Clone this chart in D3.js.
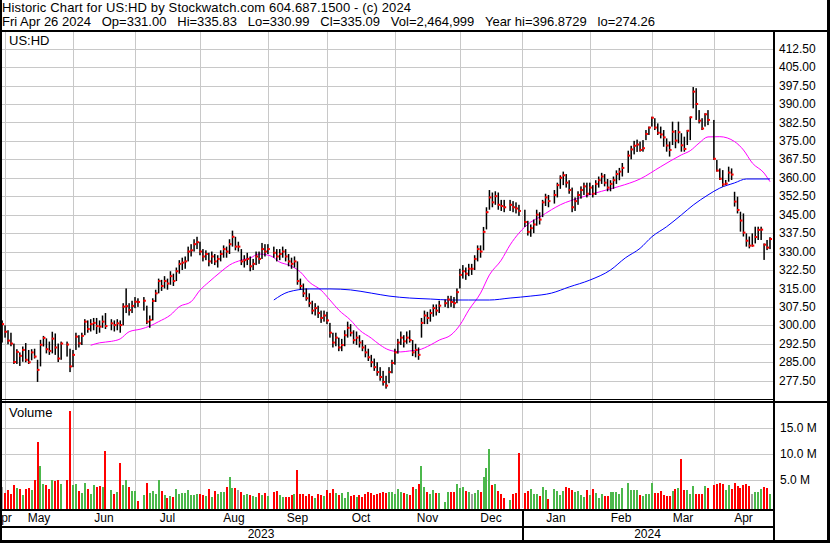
<!DOCTYPE html>
<html>
<head>
<meta charset="utf-8">
<script src="https://d3js.org/d3.v7.min.js"></script>
<style>
	body { margin: 0; background: #fff; }
	svg { display: block; }
	text { font-family: "Liberation Sans", Arial, sans-serif; fill: #000; }
</style>
</head>
<body>
<div id="chart"></div>
<script>
const titleLine = "Historic Chart for US:HD by Stockwatch.com 604.687.1500 - (c) 2024";
const quoteLine = "Fri Apr 26 2024   Op=331.00   Hi=335.83   Lo=330.99   Cl=335.09   Vol=2,464,999   Year hi=396.8729   lo=274.26";
const symbol = "US:HD";
const firstDay = "2023-04-28", lastDay = "2024-04-26";

// one entry per weekday, null = market holiday
const closes = [
	300.5, 297.4, 293.8, 292.6, 285.1, 289.2, 287.6, 290, 286, 285,
	289, 287.3, 281.9, 292.1, 294.9, 290.3, 289.6, 294.6, 291, 286.5,
	292.6, null, 292.2, 283.3, 288, 295.4, 292.7, 295.7, 301.5, 298.5,
	300.5, 301, 299.7, 299.5, 301.5, 299.7, null, 300.8, 300.1, 300.8,
	300.1, 307.6, 307.8, 306.2, 307.9, 309.6, 309.5, null, 310, 301.5,
	302.2, 309.9, 313, 318, 316, 318, 317, 320, 318, 322,
	325, 325.5, 326, 330, 330.5, 333, 333.8, 330, 328, 329,
	326, 328, 326, 327, 329, 331, 330, 333, 336, 332,
	332, 326, 326.5, 327, 324, 325, 328, 327, 331, 330,
	331, null, 329.5, 328, 329, 330, 328, 326, 325, 326,
	318, 316, 313, 311, 309, 306, 307, 305, 303, 304,
	302, 297, 293, 295, 291, 292, 296, 299, 297, 294,
	295, 293, 291, 289, 287, 285, 283, 281, 279, 277,
	275.5, 281, 284.7, 289, 293, 295, 293.5, 295, 294, 289,
	290, 288, 301, 304, 303, 305, 307, 306, 308, null,
	309, 310.5, 309.5, 309, 313.5, 320.5, 322, 321, 323, 323,
	327, 331, 330, 338, 346, 352, 350, 352.5, 349, 348.5,
	348, null, 349, 348, 347.5, 346.5, null, 342, 338, 339.5,
	341, 345, 343, 350, 352, 350.5, null, 353, 357, 360,
	361, 358, 355, 348, 350.5, 353, 355, 356.5, 353.5, 356,
	353.5, 357.5, 359, 360.5, 358, 356, 357.5, 359, 361.5, 362.5,
	364, null, 369, 371.5, 373, 373.5, 371.3, 372, 377.8, 380.4,
	384.4, 380.4, 378.3, 377.6, 376.4, 373.1, 371.3, 378.7, 375.1, 378.5,
	373.2, 371.7, 379.1, 384.6, 395, 390, 383.2, 380, 385.8, 383.5,
	null, 367.7, 362.9, 359.6, 357.3, 357.6, 362.1, 361.3, 350.3, 346.9,
	342.6, 337.7, 334.4, 332.4, 332.4, 335.9, 338.8, 338.9, 332.8, 331.6, 335.09
];
const highs = [
	302, 300, 298, 297, 292.6, 290.3, 289, 291.4, 292.8, 290,
	290.3, 290.5, 286, 294.1, 295.7, 294.7, 293.4, 297.4, 296.7, 292.6,
	293.4, null, 293.4, 290.5, 290, 297, 296, 297, 302.5, 302,
	302.5, 303, 303, 302, 304, 305, null, 302.5, 302, 302.5,
	302, 309, 315, 309, 310, 311.5, 311, null, 311.5, 308,
	304, 311, 314.5, 319, 318.5, 320, 319, 322, 321, 323.5,
	326.5, 327.5, 328, 332, 333, 335, 336, 334, 331, 330.5,
	329.5, 330, 329, 328.5, 330.5, 332.5, 332, 335, 338.5, 336,
	334, 331, 328.5, 329.5, 328, 327, 330, 330, 333.5, 333,
	333, null, 332, 331, 331, 332, 331, 329, 327.5, 328,
	326, 319, 317, 315, 313, 310, 309, 308, 306, 306,
	305.5, 301, 297, 297, 295, 294.5, 298, 301.5, 300.5, 298,
	297.5, 296, 294, 292, 290.5, 288, 286.5, 285, 283, 281.5,
	279.5, 283, 286, 290.5, 294.5, 297.5, 296, 297.5, 298, 294,
	292.5, 291, 303, 306, 305.5, 306.5, 308.5, 308.5, 310, null,
	310.5, 312, 312, 311.5, 315, 323, 324.5, 323.5, 325, 325,
	328.5, 332.5, 332.5, 340, 348, 355, 354, 354.5, 354, 351,
	351, null, 351, 350.5, 350, 349, null, 347, 342.5, 341,
	343, 347, 346, 351, 353.5, 353, null, 355, 358, 361,
	362.5, 361.5, 359, 356, 352, 354.5, 356.5, 358, 358, 358,
	357, 359, 360.5, 362, 361.5, 359.5, 359, 360.5, 363, 364,
	366, null, 371, 373, 375, 375.5, 374.7, 375.3, 379.4, 380.8,
	384.8, 384.2, 382.1, 380.8, 379.4, 376, 374.7, 382.8, 379.4, 382.8,
	378.1, 376.7, 379.4, 384.8, 396.87, 396.4, 387.5, 384.2, 386.2, 387.5,
	null, 383.5, 367.2, 363.8, 363.1, 359.1, 364.5, 363.8, 354.3, 352.3,
	346.2, 345.5, 337.4, 336.1, 337.4, 340.1, 340.1, 340.1, 333.3, 334.7, 335.83
];
const lows = [
	293, 295, 292.3, 291.5, 284.3, 284.3, 283.5, 285.2, 285, 284.3,
	285.8, 286.5, 277, 283.3, 291.4, 288.6, 288, 288.6, 288, 285.1,
	286, null, 287.3, 281, 283, 290, 291, 292, 296, 297,
	297.5, 298, 296.5, 297, 299, 298.5, null, 298, 297.5, 298,
	297, 300, 305, 304, 305, 307, 307.5, null, 306, 300.5,
	299, 302, 309.5, 313, 314, 315, 314.5, 316.5, 316, 318,
	321, 322.5, 323, 326, 328, 330, 331, 328.5, 326, 326.5,
	324, 325, 324.5, 323.5, 326, 327.5, 327.5, 329, 332, 330.5,
	330, 324.5, 323.5, 324.5, 322, 322.5, 324.5, 325, 327, 328,
	329, null, 327.5, 326, 326.5, 327.5, 326, 324, 323, 323.5,
	316.5, 314.5, 311.5, 310, 307.5, 304.5, 304, 303, 301, 301.5,
	300.5, 295, 291, 291.5, 289.5, 289.5, 291.5, 295, 295.5, 292.5,
	292, 291, 289.5, 287, 285.5, 283, 281.5, 279.5, 277.5, 275.5,
	274.26, 276.5, 280.5, 284, 288.5, 292, 291, 292.5, 293, 287.5,
	287, 286, 295, 300.5, 300.5, 301.5, 303.5, 304, 305, null,
	307.5, 307, 307.5, 307, 309, 315, 319, 318.5, 320, 320.5,
	322.5, 326, 327.5, 330.5, 339, 347, 348, 349, 347, 346.5,
	346, null, 346.5, 346, 345.5, 344.5, null, 340, 336.5, 336,
	337.5, 340.5, 341, 344, 348.5, 348, null, 349.5, 352, 355.5,
	357, 356, 353.5, 346, 346.5, 349, 351.5, 353, 352, 353,
	352, 353, 356, 357.5, 356.5, 354.5, 354.5, 355.5, 357.5, 359,
	360.5, null, 362, 367.5, 369.5, 370.5, 370.6, 370.6, 375.3, 377.4,
	380.8, 379.4, 377.4, 376, 372.6, 370.6, 368.6, 373.3, 372, 374,
	370.6, 370.6, 373.3, 375.3, 388.2, 383.5, 382.1, 379.4, 380.8, 381.4,
	null, 367.2, 362.5, 359.1, 356.4, 357.1, 358.4, 359.1, 348.3, 345.5,
	338.1, 336.1, 332, 331.3, 332, 333.3, 334.7, 334.7, 326.6, 330.6, 330.99
];
// millions of shares
const volumes = [
	3.8, 2.6, 3.1, 2.4, 4.1, 3.6, 3.3, 2.2, 3.3, 3.5,
	3.2, 5.1, 12.4, 7.75, 4.35, 4.1, 3.3, 5.1, 4.8, 5.1,
	4.3, null, 5.0, 18.3, 4.1, 4.3, 2.85, 2.5, 4.4, 3.4,
	2.4, 4.1, 3.8, 4.0, 3.7, 10.6, null, 3.1, 2.4, 2.8,
	8.4, 4.1, 5.1, 3.8, 2.85, 2.85, 1.0, null, 2.2, 4.4,
	2.6, 2.85, 2.4, 5.1, 2.85, 2.2, 1.65, 2.0, 1.8, 3.3,
	2.4, 2.5, 2.6, 3.1, 2.2, 2.1, 2.4, 2.4, 2.2, 2.0,
	3.3, 1.7, 2.85, 2.4, 2.7, 2.7, 3.7, 5.7, 3.5, 3.5,
	3.1, 2.8, 2.2, 2.4, 2.15, 2.0, 1.8, 2.5, 2.1, 2.5,
	2.0, null, 2.8, 2.85, 2.2, 1.8, 1.8, 1.8, 2.2, 2.4,
	7.0, 2.4, 2.4, 2.0, 2.4, 2.0, 1.65, 2.4, 2.2, 2.0,
	3.1, 2.6, 3.3, 2.5, 2.2, 2.5, 1.65, 2.7, 2.0, 2.2,
	1.8, 2.2, 1.8, 2.4, 2.7, 2.5, 2.2, 2.4, 2.5, 2.7,
	2.5, 2.7, 2.7, 2.4, 3.3, 2.8, 2.6, 2.3, 2.2, 3.8,
	3.3, 4.3, 7.75, 3.8, 2.8, 2.4, 3.2, 2.6, 2.6, null,
	0.8, 2.8, 2.8, 2.8, 4.3, 3.5, 3.7, 2.9, 2.7, 2.4,
	2.6, 3.1, 2.7, 5.6, 7.4, 11.0, 4.1, 4.3, 2.9, 2.4,
	1.6, null, 1.2, 2.4, 2.6, 10.25, null, 2.6, 2.9, 3.3,
	2.4, 2.4, 2.0, 3.7, 3.1, 1.5, null, 3.3, 2.9, 2.2,
	2.9, 3.7, 3.5, 3.1, 2.7, 2.9, 2.2, 1.8, 3.1, 2.2,
	3.3, 2.6, 1.6, 2.4, 2.0, 2.0, 2.7, 2.7, 2.7, 2.4,
	3.5, null, 4.45, 3.1, 3.1, 3.1, 2.2, 2.0, 2.4, 2.4,
	4.4, 2.6, 2.6, 2.9, 2.2, 2.0, 2.0, 2.9, 3.3, 3.5,
	9.1, 3.1, 3.1, 2.4, 3.9, 2.4, 2.4, 2.4, 3.9, 3.6,
	null, 4.1, 4.3, 4.5, 4.3, 3.1, 4.1, 3.3, 4.5, 3.9,
	3.5, 4.1, 4.3, 3.9, 2.4, 2.8, 2.8, 3.3, 3.7, 3.5, 2.46
];
// moving averages: [weekday index, price]
const maShort = [
	[30, 291.9], [33, 292.9], [37, 293.5], [40, 294.5], [43, 297.4], [47, 298.5],
	[50, 299.7], [53, 301.5], [57, 304.2], [60, 307.6], [64, 309.6], [67, 314.3],
	[70, 317.6], [74, 321.7], [77, 324.5], [81, 326.5], [84, 327.4], [87, 329],
	[91, 328.2], [94, 325.7], [97, 324.5], [101, 321.7], [104, 317.6], [108, 314.3],
	[111, 310.3], [114, 306.2], [118, 302.1], [121, 298.1], [125, 294.8], [128, 292],
	[131, 290], [135, 289.2], [138, 289.6], [141, 290], [145, 292], [148, 294],
	[152, 296.1], [155, 300.1], [158, 306.2], [162, 313.1], [165, 320.5], [169, 326.5],
	[172, 332.7], [175, 337.5], [179, 342], [182, 344], [186, 347], [189, 349],
	[196, 352], [203, 354.5], [209, 356.5], [216, 359.5], [223, 364.5], [230, 369.3],
	[233, 371], [236, 374.1], [239, 376.6], [243, 376.7], [248, 374.7], [251, 371.3],
	[254, 366], [258, 361.9], [260, 358.4]
];
const maLong = [
	[92, 310.3], [97, 313.6], [104, 314.8], [111, 314.8], [118, 314.4], [125, 313.1],
	[131, 311.9], [138, 311.1], [145, 310.7], [152, 310.3], [158, 310.3], [165, 310.3],
	[172, 311.1], [179, 311.9], [186, 313.1], [192, 315.6], [199, 318.4], [206, 322.5],
	[211, 327.4], [216, 331.3], [220, 336], [225, 340.1], [230, 344.9], [234, 348.9],
	[239, 353], [243, 355.8], [248, 357.9], [252, 359.5], [260, 359.5]
];
const priceTicks = [277.5, 285, 292.5, 300, 307.5, 315, 322.5, 330, 337.5, 345, 352.5, 360,
	367.5, 375, 382.5, 390, 397.5, 405, 412.5];
const volumeTicks = [5, 10, 15];
const monthNames = ["Jan", "Feb", "Mar", "Apr", "May", "Jun", "Jul", "Aug", "Sep", "Oct", "Nov", "Dec"];

function drawChart() {
	let W = 830, H = 543;
	let plotL = 2, plotR = 773;
	let priceTop = 32, priceBot = 400;
	let volBot = 508;
	let monthTop = 510;
	let gridColor = "#c8c8c8";

	let parse = d3.timeParse("%Y-%m-%d");
	let days = d3.timeDays(parse(firstDay), d3.timeDay.offset(parse(lastDay), 1))
		.filter(function (d) { return d.getDay() != 0 && d.getDay() != 6; });

	let bars = [];
	let prev = null;
	days.forEach(function (d, i) {
		if (closes[i] == null) return;
		let dir = prev == null ? 0 : Math.sign(closes[i] - prev);
		bars.push({i: i, date: d, hi: highs[i], lo: lows[i], cl: closes[i], vol: volumes[i], dir: dir});
		prev = closes[i];
	});

	let x = d3.scaleLinear()
		.domain([0, days.length - 1])
		.range([2.1, 770]);
	let step = x(1) - x(0);

	let y = d3.scaleLinear()
		.domain([269.65, 419.25])
		.range([priceBot, priceTop]);

	let yv = d3.scaleLinear()
		.domain([0, 20])
		.range([506.3, 402.3]);

	// month boundaries
	let months = [];
	days.forEach(function (d, i) {
		if (i > 0 && d.getMonth() == days[i - 1].getMonth()) return;
		let first = new Date(d.getFullYear(), d.getMonth(), 1);
		let pos = (first.getDay() == 0 || first.getDay() == 6) ? x(i) - step : x(i);
		months.push({date: d, x: Math.round(pos), first: i > 0});
	});
	let bounds = months.filter(function (m) { return m.first; });

	let svg = d3.select("#chart")
		.append("svg")
		.attr("width", W)
		.attr("height", H);

	svg.append("rect")
		.attr("width", W).attr("height", H)
		.attr("fill", "#fff");

	// header
	let header = svg.append("g").attr("class", "header");
	header.append("text")
		.attr("x", 2).attr("y", 12)
		.attr("textLength", 409)
		.attr("lengthAdjust", "spacing")
		.style("font-size", "13px")
		.text(titleLine);
	header.append("text")
		.attr("x", 2).attr("y", 26)
		.style("font-size", "13px")
		.style("white-space", "pre")
		.text(quoteLine);

	let grid = svg.append("g").attr("class", "grid")
		.attr("stroke", gridColor)
		.attr("shape-rendering", "crispEdges");

	// vertical month gridlines in both panels
	grid.selectAll("line.v")
		.data(bounds)
		.enter()
		.append("line")
		.attr("x1", function (d) { return d.x + 0.5; })
		.attr("x2", function (d) { return d.x + 0.5; })
		.attr("y1", priceTop)
		.attr("y2", volBot);

	// price gridlines + labels
	let yAxis = d3.axisRight(y)
		.tickValues(priceTicks)
		.tickSize(0)
		.tickPadding(6)
		.tickFormat(d3.format(".2f"));
	let yAxisG = svg.append("g")
		.attr("transform", "translate(" + plotR + ",0)")
		.call(yAxis);
	yAxisG.select(".domain").remove();
	yAxisG.selectAll("text")
		.style("font-size", "12px")
		.attr("dy", "0.3em")
		.attr("fill", "#000");

	grid.selectAll("line.h")
		.data(priceTicks)
		.enter()
		.append("line")
		.attr("x1", plotL)
		.attr("x2", plotR)
		.attr("y1", function (d) { return Math.round(y(d)) + 0.5; })
		.attr("y2", function (d) { return Math.round(y(d)) + 0.5; });

	// volume gridlines + labels
	let vAxis = d3.axisRight(yv)
		.tickValues(volumeTicks)
		.tickSize(0)
		.tickPadding(7)
		.tickFormat(function (d) { return d.toFixed(1) + " M"; });
	let vAxisG = svg.append("g")
		.attr("transform", "translate(" + plotR + ",0)")
		.call(vAxis);
	vAxisG.select(".domain").remove();
	vAxisG.selectAll("text")
		.style("font-size", "12px")
		.attr("dy", "0.3em")
		.attr("fill", "#000");

	grid.selectAll("line.vh")
		.data(volumeTicks)
		.enter()
		.append("line")
		.attr("x1", plotL)
		.attr("x2", plotR)
		.attr("y1", function (d) { return Math.round(yv(d)) + 0.5; })
		.attr("y2", function (d) { return Math.round(yv(d)) + 0.5; });

	// moving averages
	let line = d3.line()
		.x(function (d) { return x(d[0]); })
		.y(function (d) { return y(d[1]); })
		.curve(d3.curveMonotoneX);
	svg.append("path")
		.datum(maShort)
		.attr("d", line)
		.attr("fill", "none")
		.attr("stroke", "#ff00ff")
		.attr("stroke-width", 1);
	svg.append("path")
		.datum(maLong)
		.attr("d", line)
		.attr("fill", "none")
		.attr("stroke", "#0000ff")
		.attr("stroke-width", 1);

	// price bars
	let price = svg.append("g").attr("class", "bars");
	price.selectAll("rect.hl")
		.data(bars)
		.enter()
		.append("rect")
		.attr("x", function (d) { return x(d.i) - 0.75; })
		.attr("width", 1.5)
		.attr("y", function (d) { return y(d.hi); })
		.attr("height", function (d) { return Math.max(1, y(d.lo) - y(d.hi)); })
		.attr("fill", "#000");
	price.selectAll("rect.cl")
		.data(bars)
		.enter()
		.append("rect")
		.attr("x", function (d) { return x(d.i) - 0.5; })
		.attr("width", 2.5)
		.attr("y", function (d) { return y(d.cl) - 1; })
		.attr("height", 2)
		.attr("fill", "#ff0000");

	svg.append("text")
		.attr("x", 9).attr("y", 45)
		.style("font-size", "13px")
		.text(symbol);

	// volume bars
	let vol = svg.append("g").attr("class", "volume")
		.attr("shape-rendering", "crispEdges");
	vol.selectAll("rect")
		.data(bars)
		.enter()
		.append("rect")
		.attr("x", function (d) { return Math.round(x(d.i)) - 1; })
		.attr("width", 2)
		.attr("y", function (d) { return yv(d.vol); })
		.attr("height", function (d) { return volBot + 0.5 - yv(d.vol); })
		.attr("fill", function (d) {
			return d.dir > 0 ? "#4cb84c" : (d.dir < 0 ? "#ff0000" : "#a0a0a0");
		});

	svg.append("text")
		.attr("x", 9).attr("y", 417)
		.style("font-size", "13px")
		.text("Volume");

	// month + year labels
	let labels = svg.append("g")
		.attr("clip-path", "url(#clipDates)");
	svg.append("clipPath").attr("id", "clipDates")
		.append("rect")
		.attr("x", plotL).attr("y", monthTop)
		.attr("width", plotR - plotL).attr("height", H - monthTop);

	let edges = [0].concat(bounds.map(function (m) { return m.x; })).concat([plotR]);
	labels.selectAll("text.month")
		.data(months)
		.enter()
		.append("text")
		.attr("x", function (d, i) { return (edges[i] + edges[i + 1]) / 2; })
		.attr("y", 522)
		.attr("text-anchor", "middle")
		.style("font-size", "12px")
		.text(function (d) { return monthNames[d.date.getMonth()]; });

	let yearBreaks = bounds.filter(function (m) { return m.date.getMonth() == 0; });
	let yearEdges = [0].concat(yearBreaks.map(function (m) { return m.x; })).concat([plotR]);
	let years = [days[0].getFullYear()].concat(yearBreaks.map(function (m) { return m.date.getFullYear(); }));
	labels.selectAll("text.year")
		.data(years)
		.enter()
		.append("text")
		.attr("x", function (d, i) { return (yearEdges[i] + yearEdges[i + 1]) / 2; })
		.attr("y", 538)
		.attr("text-anchor", "middle")
		.style("font-size", "12px")
		.text(function (d) { return d; });

	// frame lines
	let frame = svg.append("g")
		.attr("stroke", "#000")
		.attr("shape-rendering", "crispEdges");
	function hline(x1, x2, yy, w) {
		frame.append("line").attr("x1", x1).attr("x2", x2).attr("y1", yy).attr("y2", yy).attr("stroke-width", w);
	}
	function vline(xx, y1, y2, w) {
		frame.append("line").attr("x1", xx).attr("x2", xx).attr("y1", y1).attr("y2", y2).attr("stroke-width", w);
	}
	hline(0, W, 31, 2);
	hline(0, plotR, 399.5, 1);
	hline(0, W, 402, 2);
	hline(0, plotR, 510, 2);
	hline(0, plotR, 527, 2);
	hline(0, W, 541.5, 3);
	vline(1, 0, H, 2);
	vline(plotR + 1, 31, H, 2);
	vline(W - 2, 0, H, 3);
	yearBreaks.forEach(function (m) { vline(m.x + 0.5, monthTop, H, 2); });
}

drawChart();
</script>
</body>
</html>
